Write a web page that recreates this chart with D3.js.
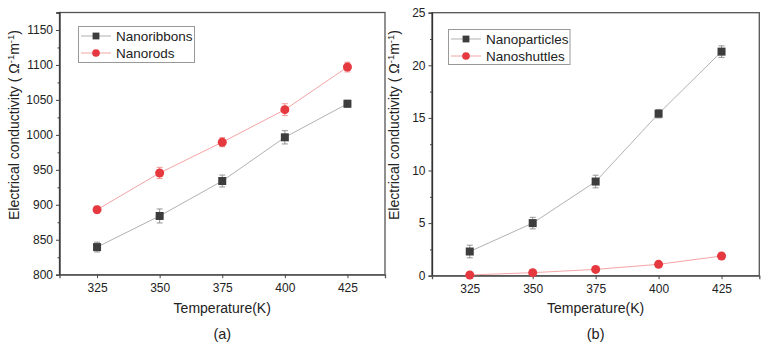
<!DOCTYPE html>
<html lang="en">
<head>
    <meta charset="UTF-8">
    <title>Electrical conductivity</title>
    <script src="https://d3js.org/d3.v7.min.js"></script>
    <style>
        body { margin: 0; background: #fff; }
        svg text { font-family: "Liberation Sans", Arial, sans-serif; fill: #222; }
    </style>
</head>
<body>
    <div id="chart"></div>
    <script>
        // Shared x values (temperature, K)
        const temps = [325, 350, 375, 400, 425];
        const xTicks = [325, 350, 375, 400, 425];

        // Panel (a)
        const ribbons = [839.5, 884, 934, 996.5, 1044.5];
        const ribbonsErr = [7, 10, 8.5, 9.5, 5];
        const rods = [893, 945.5, 989.5, 1036, 1097];
        const rodsErr = [5, 8, 6.5, 8.5, 7];
        const yTicksA = [800, 850, 900, 950, 1000, 1050, 1100, 1150];

        // Panel (b)
        const particles = [2.3, 5.0, 8.95, 15.4, 21.3];
        const particlesErr = [0.6, 0.55, 0.6, 0.4, 0.55];
        const shuttles = [0.07, 0.29, 0.6, 1.08, 1.87];
        const shuttlesErr = [0.08, 0.1, 0.1, 0.12, 0.12];
        const yTicksB = [0, 5, 10, 15, 20, 25];

        const svg = d3.select("#chart").append("svg")
            .attr("width", 767)
            .attr("height", 345);

        function drawPanel(opt) {
            const x = d3.scaleLinear().domain([310, 440]).range([opt.left, opt.right]);
            const y = d3.scaleLinear().domain(opt.yDomain).range([opt.bottom, opt.top]);
            const g = svg.append("g");

            // frame
            g.append("rect")
                .attr("x", opt.left).attr("y", opt.top)
                .attr("width", opt.right - opt.left).attr("height", opt.bottom - opt.top)
                .attr("fill", "none").attr("stroke", "#555").attr("stroke-width", 1.3);

            // minor y ticks
            g.append("g")
                .attr("transform", "translate(" + opt.left + ",0)")
                .call(d3.axisLeft(y).tickValues(opt.minor).tickSize(2).tickFormat(""))
                .call(a => a.select(".domain").remove())
                .selectAll("line").attr("stroke", "#444");

            const yAxis = g.append("g")
                .attr("transform", "translate(" + opt.left + ",0)")
                .call(d3.axisLeft(y).tickValues(opt.yTicks).tickSize(3.5).tickPadding(3)
                    .tickFormat(d3.format("d")));
            yAxis.select(".domain").attr("stroke", "#333").attr("stroke-width", 1.3);
            yAxis.selectAll("line").attr("stroke", "#444");
            yAxis.selectAll("text").style("font-size", "12px").attr("fill", "#222");

            const xAxis = g.append("g")
                .attr("transform", "translate(0," + opt.bottom + ")")
                .call(d3.axisBottom(x).tickValues(xTicks).tickSize(3.5).tickPadding(5));
            xAxis.select(".domain").attr("stroke", "#555").attr("stroke-width", 1.3);
            xAxis.selectAll("line").attr("stroke", "#444");
            xAxis.selectAll("text").style("font-size", "12px").attr("fill", "#222");

            // axis titles
            const cx = (opt.left + opt.right) / 2;
            g.append("text")
                .attr("x", cx).attr("y", 313)
                .attr("text-anchor", "middle")
                .style("font-size", "14px")
                .text("Temperature(K)");

            const yt = g.append("text")
                .attr("transform", "translate(" + opt.titleX + "," + opt.titleY + ") rotate(-90)")
                .attr("text-anchor", "middle")
                .style("font-size", "14px");
            yt.append("tspan").text("Electrical conductivity ( Ω");
            yt.append("tspan").attr("dy", -5).style("font-size", "9.5px").text("-1");
            yt.append("tspan").attr("dy", 5).text("m");
            yt.append("tspan").attr("dy", -5).style("font-size", "9.5px").text("-1");
            yt.append("tspan").attr("dy", 5).text(")");

            g.append("text")
                .attr("x", cx).attr("y", 339)
                .attr("text-anchor", "middle")
                .style("font-size", "14.5px")
                .text(opt.label);

            opt.series.forEach(s => {
                const pts = temps.map((t, i) => ({ t: t, v: s.values[i], e: s.err[i] }));
                const line = d3.line().x(d => x(d.t)).y(d => y(d.v));

                g.append("path")
                    .datum(pts)
                    .attr("fill", "none")
                    .attr("stroke", s.lineColor)
                    .attr("stroke-width", 0.9)
                    .attr("d", line);

                const eb = g.append("g").selectAll("g").data(pts).join("g")
                    .attr("stroke", s.errColor).attr("stroke-width", 0.9);
                eb.append("line")
                    .attr("x1", d => x(d.t)).attr("x2", d => x(d.t))
                    .attr("y1", d => y(d.v - d.e)).attr("y2", d => y(d.v + d.e));
                eb.append("line")
                    .attr("x1", d => x(d.t) - 3).attr("x2", d => x(d.t) + 3)
                    .attr("y1", d => y(d.v - d.e)).attr("y2", d => y(d.v - d.e));
                eb.append("line")
                    .attr("x1", d => x(d.t) - 3).attr("x2", d => x(d.t) + 3)
                    .attr("y1", d => y(d.v + d.e)).attr("y2", d => y(d.v + d.e));

                drawMarkers(g.append("g"), pts.map(d => [x(d.t), y(d.v)]), s);
            });

            // legend
            const lg = g.append("g");
            lg.append("rect")
                .attr("x", opt.legend.x).attr("y", opt.legend.y)
                .attr("width", opt.legend.w).attr("height", opt.legend.h)
                .attr("fill", "#fff").attr("stroke", "#999").attr("stroke-width", 1);
            opt.series.forEach((s, i) => {
                const ry = opt.legend.y + 9.5 + i * 17;
                const lx = opt.legend.x + 2.5;
                lg.append("line")
                    .attr("x1", lx).attr("x2", lx + 30)
                    .attr("y1", ry).attr("y2", ry)
                    .attr("stroke", s.lineColor).attr("stroke-width", 0.9);
                drawMarkers(lg.append("g"), [[lx + 15, ry]], s, 0.85);
                lg.append("text")
                    .attr("x", lx + 35).attr("y", ry + 5)
                    .style("font-size", "13.5px")
                    .text(s.name);
            });
        }

        function drawMarkers(sel, coords, s, k = 1) {
            if (s.shape === "square") {
                const h = 4 * k;
                sel.selectAll("rect").data(coords).join("rect")
                    .attr("x", d => d[0] - h).attr("y", d => d[1] - h)
                    .attr("width", 2 * h).attr("height", 2 * h)
                    .attr("fill", s.color);
            } else {
                sel.selectAll("circle").data(coords).join("circle")
                    .attr("cx", d => d[0]).attr("cy", d => d[1])
                    .attr("r", 4.5 * k)
                    .attr("fill", s.color);
            }
        }

        drawPanel({
            left: 59.5, right: 385, top: 12.5, bottom: 274.7,
            yDomain: [800, 1175],
            yTicks: yTicksA,
            minor: d3.range(825, 1176, 50),
            titleX: 19, titleY: 125,
            label: "(a)",
            legend: { x: 78.5, y: 26.5, w: 116, h: 36 },
            series: [
                { name: "Nanoribbons", values: ribbons, err: ribbonsErr, shape: "square",
                  color: "#3d3d3d", lineColor: "#a8a8a8", errColor: "#8a8a8a" },
                { name: "Nanorods", values: rods, err: rodsErr, shape: "circle",
                  color: "#e5383f", lineColor: "#f29a9a", errColor: "#ef8c8c" }
            ]
        });

        drawPanel({
            left: 432, right: 759.3, top: 12.7, bottom: 275.7,
            yDomain: [0, 25],
            yTicks: yTicksB,
            minor: d3.range(2.5, 25, 5),
            titleX: 399, titleY: 125,
            label: "(b)",
            legend: { x: 448.5, y: 29.5, w: 121.5, h: 35 },
            series: [
                { name: "Nanoparticles", values: particles, err: particlesErr, shape: "square",
                  color: "#3d3d3d", lineColor: "#a8a8a8", errColor: "#8a8a8a" },
                { name: "Nanoshuttles", values: shuttles, err: shuttlesErr, shape: "circle",
                  color: "#e5383f", lineColor: "#f29a9a", errColor: "#ef8c8c" }
            ]
        });
    </script>
</body>
</html>
